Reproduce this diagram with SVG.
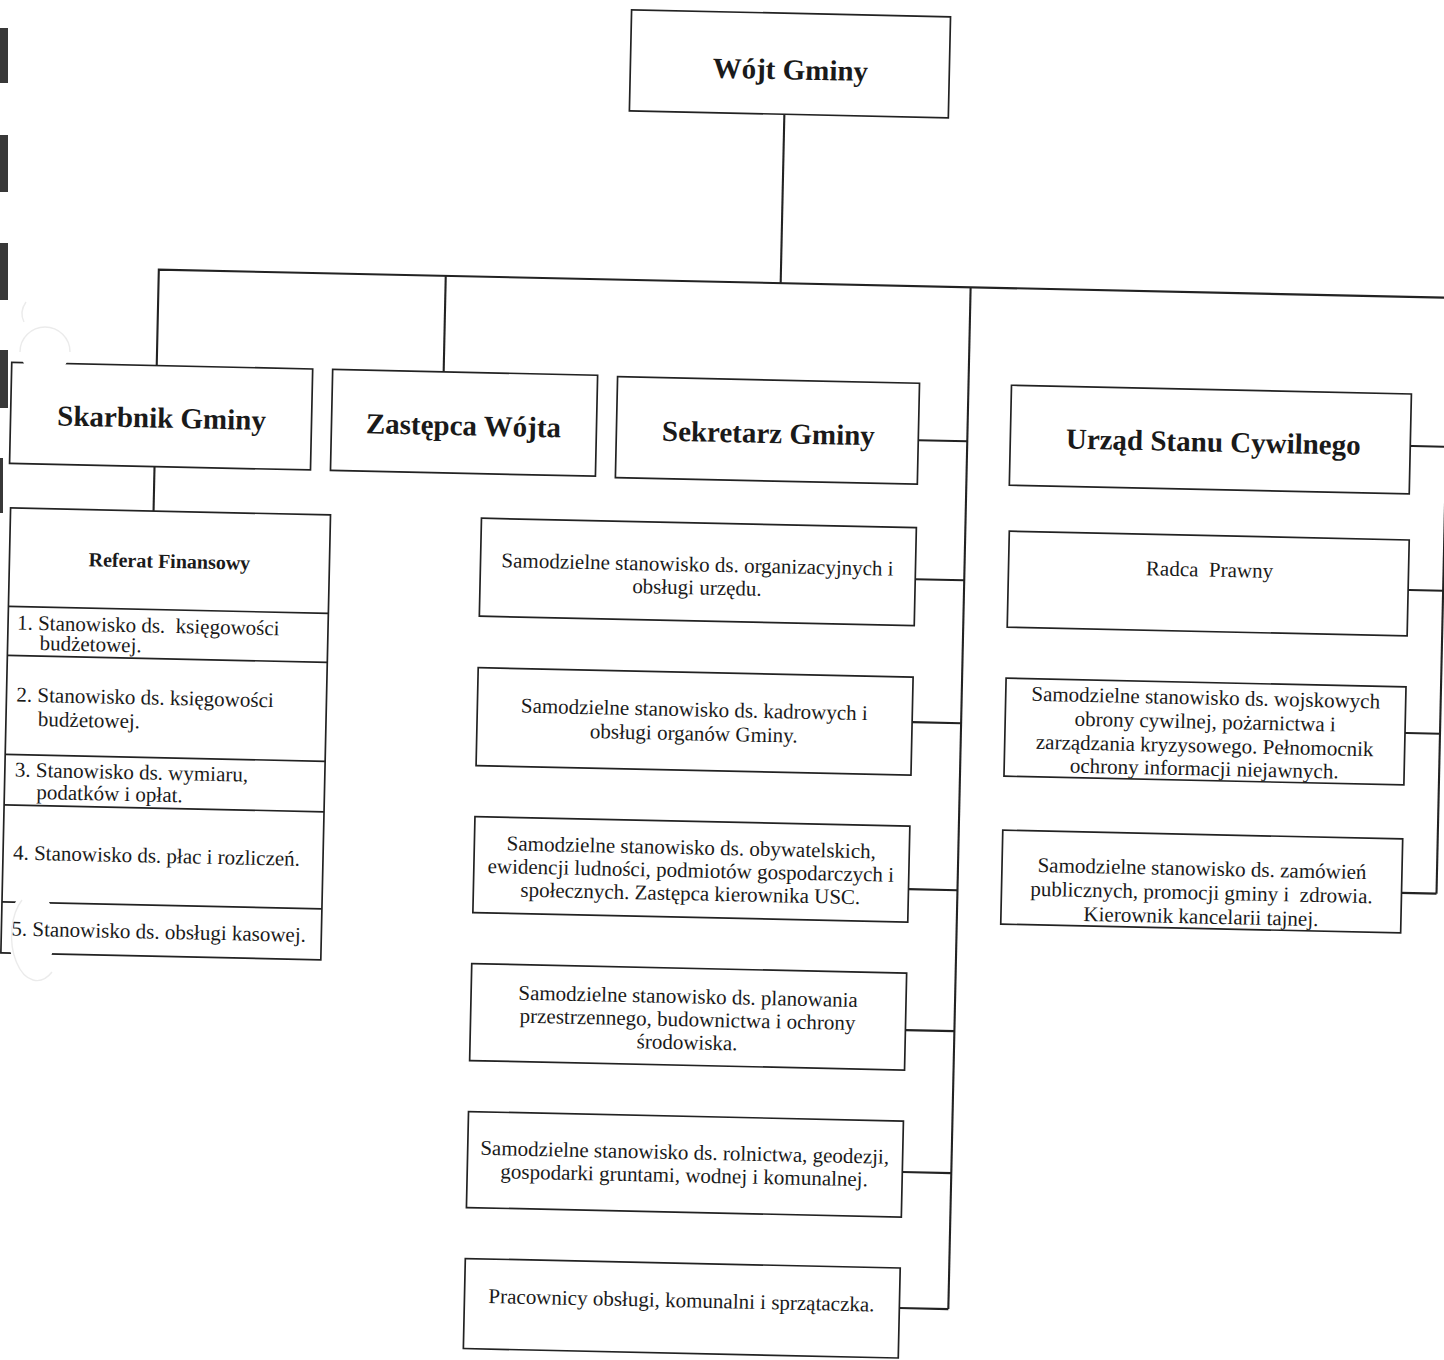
<svg xmlns="http://www.w3.org/2000/svg" width="1444" height="1360" viewBox="0 0 1444 1360">
<style>
.box{fill:#fff;stroke:#222;stroke-width:1.7}
.ln{fill:none;stroke:#222;stroke-width:2.1}
.sep{fill:none;stroke:#222;stroke-width:1.6}
.t{font-family:"Liberation Serif","Times New Roman",serif;fill:#1a1a1a;font-size:21px}
.c{text-anchor:middle}
.b{font-weight:bold;font-size:29px}
.rb{font-weight:bold;font-size:20px}
.mark{fill:#383838}
.hole{fill:none;stroke:#ebebeb;stroke-width:1.4}
</style>
<defs>
<mask id="holes" maskUnits="userSpaceOnUse" x="-200" y="-200" width="1900" height="1800">
<rect x="-200" y="-200" width="1900" height="1800" fill="#fff"/>
<circle cx="38" cy="365" r="25" fill="#000"/>
<ellipse cx="37.5" cy="947" rx="24" ry="42" fill="#000"/>
</mask>
</defs>
<rect width="1444" height="1360" fill="#fff"/>
<g id="binder-marks">
<rect class="mark" x="0" y="28" width="8" height="55"/>
<rect class="mark" x="0" y="135" width="8" height="57"/>
<rect class="mark" x="0" y="243" width="8" height="57"/>
<rect class="mark" x="0" y="350" width="8" height="58"/>
<rect class="mark" x="0" y="458" width="3" height="55"/>
</g>
<g transform="rotate(1.25 722 680)">
<g id="connectors" class="ln">
<path d="M772 113 V282"/>
<path d="M150 378 V282 H1470"/>
<path d="M437 282 V378"/>
<path d="M962 282 V1304"/>
<path d="M913 436 H962"/>
<path d="M913 575 H962"/>
<path d="M913 718 H962"/>
<path d="M913 885 H962"/>
<path d="M913 1026 H962"/>
<path d="M913 1168 H962"/>
<path d="M913 1304 H962"/>
<path d="M150 479 V523.5"/>
<path d="M1441 282 V878"/>
<path d="M1397 431 H1441"/>
<path d="M1396 575 H1441"/>
<path d="M1397 718 H1441"/>
<path d="M1394 878 H1441"/>
</g>
<g id="wojt">
<rect class="box" x="617" y="12" width="319" height="101"/>
<text class="t c b" x="777" y="78">Wójt Gminy</text>
</g>
<g id="skarbnik">
<rect class="box" x="5" y="378" width="301" height="101" mask="url(#holes)"/>
<text class="t c b" x="156" y="440">Skarbnik Gminy</text>
</g>
<g id="zastepca">
<rect class="box" x="326" y="378" width="265" height="101"/>
<text class="t c b" x="458" y="441">Zastępca Wójta</text>
</g>
<g id="sekretarz">
<rect class="box" x="611" y="379" width="302" height="101"/>
<text class="t c b" x="763" y="442">Sekretarz Gminy</text>
</g>
<g id="usc">
<rect class="box" x="1005" y="379" width="400" height="100"/>
<text class="t c b" x="1208" y="441">Urząd Stanu Cywilnego</text>
</g>
<g id="referat">
<rect class="box" x="7" y="523.5" width="320" height="445" mask="url(#holes)"/>
<g class="sep" mask="url(#holes)">
<path d="M7 622 H327"/>
<path d="M7 671 H327"/>
<path d="M7 770 H327"/>
<path d="M7 820.5 H327"/>
<path d="M7 917.5 H327"/>
</g>
<text class="t c rb" x="167" y="580">Referat Finansowy</text>
<text class="t" x="16" y="645" xml:space="preserve">1. Stanowisko ds.  księgowości</text>
<text class="t" x="39" y="665">budżetowej.</text>
<text class="t" x="17" y="717">2. Stanowisko ds. księgowości</text>
<text class="t" x="39" y="741">budżetowej.</text>
<text class="t" x="17" y="792">3. Stanowisko ds. wymiaru,</text>
<text class="t" x="39" y="814">podatków i opłat.</text>
<text class="t" x="17" y="875">4. Stanowisko ds. płac i rozliczeń.</text>
<text class="t" x="17" y="951">5. Stanowisko ds. obsługi kasowej.</text>
</g>
<g id="sam-organizacyjne">
<rect class="box" x="478" y="523.5" width="435" height="98"/>
<text class="t c" x="695" y="572">Samodzielne stanowisko ds. organizacyjnych i</text>
<text class="t c" x="695" y="595">obsługi urzędu.</text>
</g>
<g id="sam-kadrowe">
<rect class="box" x="478" y="673" width="435" height="98"/>
<text class="t c" x="695" y="717">Samodzielne stanowisko ds. kadrowych i</text>
<text class="t c" x="695" y="741">obsługi organów Gminy.</text>
</g>
<g id="sam-obywatelskie">
<rect class="box" x="478" y="822" width="435" height="96"/>
<text class="t c" x="695" y="855">Samodzielne stanowisko ds. obywatelskich,</text>
<text class="t c" x="695" y="878">ewidencji ludności, podmiotów gospodarczych i</text>
<text class="t c" x="695" y="901">społecznych. Zastępca kierownika USC.</text>
</g>
<g id="sam-planowanie">
<rect class="box" x="478" y="969" width="435" height="97"/>
<text class="t c" x="695" y="1004">Samodzielne stanowisko ds. planowania</text>
<text class="t c" x="695" y="1027">przestrzennego, budownictwa i ochrony</text>
<text class="t c" x="695" y="1050">środowiska.</text>
</g>
<g id="sam-rolnictwo">
<rect class="box" x="478" y="1117" width="435" height="96"/>
<text class="t c" x="695" y="1160">Samodzielne stanowisko ds. rolnictwa, geodezji,</text>
<text class="t c" x="695" y="1183">gospodarki gruntami, wodnej i komunalnej.</text>
</g>
<g id="pracownicy">
<rect class="box" x="478" y="1264" width="435" height="90"/>
<text class="t c" x="695" y="1308">Pracownicy obsługi, komunalni i sprzątaczka.</text>
</g>
<g id="radca">
<rect class="box" x="1006" y="525" width="400" height="96"/>
<text class="t c" x="1207" y="566" xml:space="preserve">Radca  Prawny</text>
</g>
<g id="sam-wojskowe">
<rect class="box" x="1006" y="672" width="400" height="98"/>
<text class="t c" x="1206" y="694">Samodzielne stanowisko ds. wojskowych</text>
<text class="t c" x="1206" y="718">obrony cywilnej, pożarnictwa i</text>
<text class="t c" x="1206" y="742">zarządzania kryzysowego. Pełnomocnik</text>
<text class="t c" x="1206" y="765">ochrony informacji niejawnych.</text>
</g>
<g id="sam-zamowienia">
<rect class="box" x="1006" y="824" width="400" height="94"/>
<text class="t c" x="1206" y="865">Samodzielne stanowisko ds. zamówień</text>
<text class="t c" x="1206" y="889" xml:space="preserve">publicznych, promocji gminy i  zdrowia.</text>
<text class="t c" x="1206" y="913">Kierownik kancelarii tajnej.</text>
</g>
</g>
<g id="punch-holes">
<path class="hole" d="M20 352 A25 25 0 0 1 70 352"/>
<path class="hole" d="M22 900 A24 42 0 0 0 52 972"/>
<path class="hole" d="M26 302 Q19 312 24 322"/>
</g>
</svg>
